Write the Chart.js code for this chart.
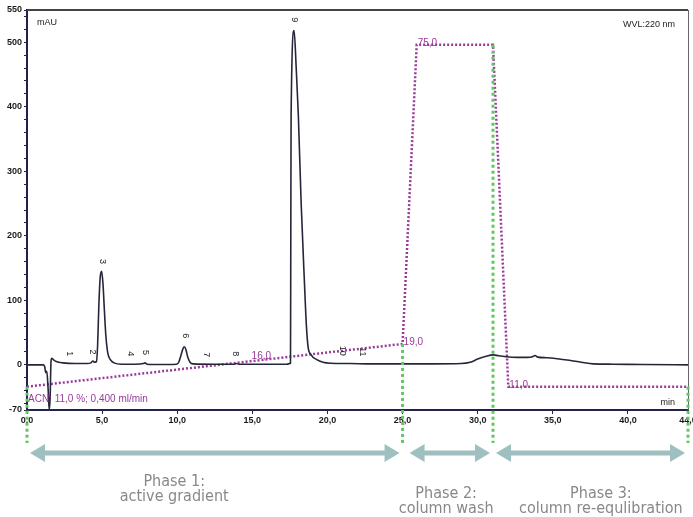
<!DOCTYPE html>
<html>
<head>
<meta charset="utf-8">
<script src="https://cdn.jsdelivr.net/npm/chart.js@4"></script>
<style>
html, body { margin: 0; padding: 0; background: #fff; }
</style>
</head>
<body>
<canvas id="chromChart" width="693" height="517"></canvas>
<script>
// detector trace (min / mAU)
const traceTimes = [0, 0.5, 1.1, 1.18, 1.25, 1.32, 1.4, 1.48, 1.54, 1.6,
    1.66, 1.75, 1.95, 2.4, 3.2, 4.0, 4.25, 4.39, 4.5, 4.62,
    4.7, 4.78, 4.87, 4.97, 5.06, 5.15, 5.25, 5.38, 5.55, 5.8,
    6.3, 7.2, 7.75, 7.86, 8.0, 8.8, 9.95, 10.1, 10.25, 10.38,
    10.47, 10.57, 10.7, 10.85, 11.05, 12.5, 13.8, 13.95, 14.1, 15.5,
    17.3, 17.5, 17.54, 17.56, 17.58, 17.78, 17.92, 18.06, 18.25,
    18.46, 18.6, 18.71, 18.9, 19.29, 19.7, 20.2, 21.5, 23, 25,
    27, 28.9, 29.5, 30.0, 30.5, 31.05, 31.4, 31.9, 32.6, 33.3,
    33.65, 33.82, 34.0, 34.6, 35.3, 36.1, 36.9, 37.7, 39, 41,
    44];
const traceValues = [0, 0, 0, -3, -12, -10, -35, -70, -50, 6,
    10, 8, 5, 3, 2, 2, 3, 6, 4, 5,
    30, 90, 135, 145, 125, 85, 45, 18, 8, 3,
    1, 1, 2, 3, 1, 0.5, 1, 4, 15, 25,
    28, 24, 12, 4, 1.5, 1, 1, 2, 1, 1,
    1, 2, 3, 200, 385, 518, 460, 388, 250,
    132, 60, 28, 16, 8, 4, 2.5, 2, 1.5, 1.5,
    1.5, 2, 4, 9, 13, 15.5, 14, 12.5, 11.5, 11.5,
    12.5, 14.5, 12, 11, 9.5, 7, 4, 1.5, 1, 0.5,
    0];

// gradient program (min / %ACN)
const gradientTimes = [0, 15.6, 25, 25.94, 31.02, 32.04, 44];
const gradientPercent = [11, 16, 19, 75, 75, 11, 11];
const gradientLabels = ["", "16,0", "19,0", "75,0", "", "11,0", ""];

// peak numbering
const peakNames = ["1", "2", "3", "4", "5", "6", "7", "8", "9", "10", "11"];
const peakTimes = [2.86, 4.39, 5.04, 6.92, 7.86, 10.52, 11.92, 13.91, 17.78, 20.97, 22.3];
const peakLabelHeights = [17, 20, 160, 17, 19, 45, 15.5, 17, 535, 22, 20];

const xTickValues = [0, 5, 10, 15, 20, 25, 30, 35, 40, 44];
const yTickLabels = [-70, 0, 100, 200, 300, 400, 500, 550];

// phases
const phaseBounds = [0, 25, 31.02, 44];
const phaseTitles = ["Phase 1:", "Phase 2:", "Phase 3:"];
const phaseDescriptions = ["active gradient", "column wash", "column re-equlibration"];
const phaseLabelTimes = [9.8, 27.9, 38.2];

const axisColor = "#23234a";
const purple = "#9a3a9a";
const labelFont = "9px 'Liberation Sans', Arial, sans-serif";

function fmt(v) {
    return v.toFixed(1).replace(".", ",");
};

function gradientAt(t) {
    const i = gradientTimes.indexOf(t);
    return gradientPercent[i];
};

function drawArrow(ctx, x1, x2, yc) {
    const head = 15, half = 9, shaft = 2.5;
    ctx.beginPath();
    ctx.moveTo(x1, yc);
    ctx.lineTo(x1 + head, yc - half);
    ctx.lineTo(x1 + head, yc - shaft);
    ctx.lineTo(x2 - head, yc - shaft);
    ctx.lineTo(x2 - head, yc - half);
    ctx.lineTo(x2, yc);
    ctx.lineTo(x2 - head, yc + half);
    ctx.lineTo(x2 - head, yc + shaft);
    ctx.lineTo(x1 + head, yc + shaft);
    ctx.lineTo(x1 + head, yc + half);
    ctx.closePath();
    ctx.fill();
};

const annotations = {
    id: "annotations",
    afterDraw(chart) {
        const { ctx, chartArea, scales } = chart;
        const x = scales.x, y = scales.y, b = scales.b;
        ctx.save();

        // frame top / right
        ctx.strokeStyle = "#444";
        ctx.lineWidth = 2;
        ctx.beginPath();
        ctx.moveTo(chartArea.left, chartArea.top);
        ctx.lineTo(chartArea.right, chartArea.top);
        ctx.stroke();
        ctx.strokeStyle = "#666";
        ctx.lineWidth = 1;
        ctx.beginPath();
        ctx.moveTo(chartArea.right + 0.5, chartArea.top);
        ctx.lineTo(chartArea.right + 0.5, chartArea.bottom);
        ctx.stroke();

        // texts in plot
        ctx.fillStyle = "#222";
        ctx.font = labelFont;
        ctx.textBaseline = "alphabetic";
        ctx.textAlign = "left";
        ctx.fillText("mAU", chartArea.left + 10, chartArea.top + 15);
        ctx.textAlign = "right";
        ctx.fillText("WVL:220 nm", chartArea.right - 13, chartArea.top + 17);
        ctx.fillText("min", chartArea.right - 13, chartArea.bottom - 5);

        // peak numbers
        ctx.textAlign = "center";
        ctx.textBaseline = "middle";
        peakNames.forEach((name, i) => {
            ctx.save();
            ctx.translate(x.getPixelForValue(peakTimes[i]), y.getPixelForValue(peakLabelHeights[i]));
            ctx.rotate(Math.PI / 2);
            ctx.fillText(name, 0, 0);
            ctx.restore();
        });

        // gradient labels
        ctx.fillStyle = purple;
        ctx.font = "10px 'Liberation Sans', Arial, sans-serif";
        ctx.textBaseline = "alphabetic";
        gradientLabels.forEach((lab, i) => {
            if (!lab) return;
            const px = x.getPixelForValue(gradientTimes[i]);
            const py = b.getPixelForValue(gradientPercent[i]);
            if (i === 1) {
                ctx.textAlign = "center";
                ctx.fillText(lab, px, py - 1);
            } else {
                ctx.textAlign = "left";
                ctx.fillText(lab, px + 1, py + 1);
            }
        });
        ctx.textAlign = "left";
        ctx.fillText("ACN: 11,0 %; 0,400 ml/min", chartArea.left + 1, chartArea.bottom - 8);

        // phase markers
        ctx.strokeStyle = "#5fc95f";
        ctx.lineWidth = 3;
        ctx.setLineDash([3, 3]);
        phaseBounds.forEach(t => {
            const px = x.getPixelForValue(t);
            ctx.beginPath();
            ctx.moveTo(px, b.getPixelForValue(gradientAt(t)));
            ctx.lineTo(px, chartArea.bottom + 33);
            ctx.stroke();
        });
        ctx.setLineDash([]);

        // arrows
        ctx.fillStyle = "#9fc0c0";
        const arrowY = chartArea.bottom + 43;
        for (let i = 0; i < phaseTitles.length; i++) {
            const x1 = x.getPixelForValue(phaseBounds[i]) + (i === 1 ? 7 : 3);
            const x2 = x.getPixelForValue(phaseBounds[i + 1]) - 3;
            drawArrow(ctx, x1, x2, arrowY);
        }

        // phase texts
        ctx.fillStyle = "#888";
        ctx.font = "16px 'Liberation Sans Narrow', 'DejaVu Sans Condensed', sans-serif";
        ctx.textAlign = "center";
        phaseTitles.forEach((title, i) => {
            const px = x.getPixelForValue(phaseLabelTimes[i]);
            const top = i === 0 ? chartArea.bottom + 76 : chartArea.bottom + 88;
            ctx.fillText(title, px, top);
            ctx.fillText(phaseDescriptions[i], px, top + 15);
        });

        ctx.restore();
    }
};

new Chart(document.getElementById("chromChart"), {
    type: "line",
    data: {
        datasets: [{
            label: "UV 220 nm",
            data: traceTimes.map((t, i) => ({ x: t, y: traceValues[i] })),
            borderColor: "#26263a",
            borderWidth: 1.6,
            pointRadius: 0,
            cubicInterpolationMode: "monotone",
            yAxisID: "y"
        }, {
            label: "%ACN",
            data: gradientTimes.map((t, i) => ({ x: t, y: gradientPercent[i] })),
            borderColor: purple,
            borderWidth: 2.5,
            borderDash: [2, 2],
            pointRadius: 0,
            tension: 0,
            yAxisID: "b"
        }]
    },
    options: {
        responsive: false,
        animation: false,
        devicePixelRatio: 1,
        layout: {
            padding: { top: 10, right: 5, left: 0, bottom: 87 }
        },
        scales: {
            x: {
                type: "linear",
                min: 0,
                max: 44,
                afterBuildTicks(scale) {
                    scale.ticks = xTickValues.map(v => ({ value: v }));
                },
                afterFit(scale) {
                    scale.height = 20;
                    scale.paddingLeft = 0;
                    scale.paddingRight = 0;
                },
                ticks: {
                    autoSkip: false,
                    maxRotation: 0,
                    padding: 1,
                    color: "#1a1a1a",
                    font: { family: "'Liberation Sans', Arial, sans-serif", size: 9, weight: "bold" },
                    callback: v => fmt(v)
                },
                grid: {
                    drawOnChartArea: false,
                    tickLength: 4,
                    tickColor: axisColor
                },
                border: { color: axisColor, width: 2 }
            },
            y: {
                min: -70,
                max: 550,
                afterBuildTicks(scale) {
                    const vals = new Set(yTickLabels);
                    for (let v = -60; v <= 540; v += 20) vals.add(v);
                    scale.ticks = [...vals].sort((a, b) => a - b).map(v => ({ value: v }));
                },
                afterFit(scale) {
                    scale.width = 27;
                    scale.paddingTop = 0;
                    scale.paddingBottom = 0;
                },
                ticks: {
                    autoSkip: false,
                    padding: 2,
                    color: "#1a1a1a",
                    font: { family: "'Liberation Sans', Arial, sans-serif", size: 9, weight: "bold" },
                    callback: v => yTickLabels.includes(v) ? String(v) : ""
                },
                grid: {
                    drawOnChartArea: false,
                    tickLength: 3,
                    tickColor: axisColor
                },
                border: { color: axisColor, width: 2 }
            },
            b: {
                display: false,
                min: 6.64,
                max: 81.5
            }
        },
        plugins: {
            legend: { display: false },
            tooltip: { enabled: false }
        }
    },
    plugins: [annotations]
});
</script>
</body>
</html>
